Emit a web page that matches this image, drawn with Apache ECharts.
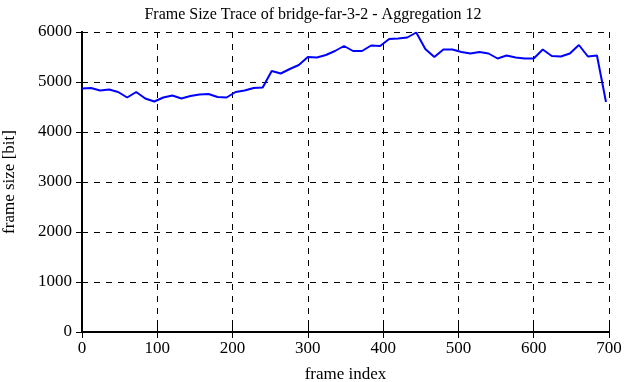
<!DOCTYPE html>
<html>
<head>
<meta charset="utf-8">
<script src="https://cdn.jsdelivr.net/npm/echarts@6/dist/echarts.min.js"></script>
<style>
html, body { margin: 0; padding: 0; background: #fff; }
#chart { width: 626px; height: 382px; }
</style>
</head>
<body>
<div id="chart"></div>
<script>
// frame index (aggregation of 12 frames)
var frames = [];
for (var i = 0; i <= 58; i++) frames.push(i * 12);
var frameSize = [
    4870, 4880, 4830, 4850, 4800, 4690, 4800, 4670, 4610, 4690,
    4730, 4670, 4720, 4750, 4760, 4700, 4690, 4800, 4830, 4880,
    4890, 5220, 5170, 5260, 5340, 5500, 5490, 5540, 5620, 5720,
    5620, 5620, 5730, 5720, 5860, 5870, 5890, 5990, 5660, 5500,
    5650, 5650, 5600, 5570, 5600, 5570, 5470, 5530, 5490, 5470,
    5470, 5650, 5520, 5510, 5570, 5740, 5510, 5530, 4600
];
var xTicks = [0, 100, 200, 300, 400, 500, 600, 700];
var yTicks = [0, 1000, 2000, 3000, 4000, 5000, 6000];

var fontFam = '"Liberation Serif", "DejaVu Serif", serif';
var points = frames.map(function (f, i) { return [f, frameSize[i]]; });

var dashed = { show: true, lineStyle: { color: '#000', type: [6, 6], width: 1 } };

var option = {
    animation: false,
    backgroundColor: '#fff',
    title: {
        text: 'Frame Size Trace of bridge-far-3-2 - Aggregation 12',
        left: 'center',
        top: 2,
        textStyle: { fontFamily: fontFam, fontSize: 16, fontWeight: 'normal', color: '#000' }
    },
    grid: { left: 82, right: 17, top: 32, bottom: 50, containLabel: false, outerBoundsMode: 'none' },
    xAxis: [{
        type: 'value',
        min: xTicks[0],
        max: xTicks[xTicks.length - 1],
        interval: 100,
        name: 'frame index',
        nameLocation: 'middle',
        nameGap: 34,
        nameTextStyle: { fontFamily: fontFam, fontSize: 17, color: '#000' },
        axisLine: { show: true, lineStyle: { color: '#000', width: 2 } },
        axisTick: { show: true, inside: true, length: 6, lineStyle: { color: '#000', width: 1 } },
        axisLabel: { fontFamily: fontFam, fontSize: 17, color: '#000', margin: 8 },
        splitLine: dashed
    }, {
        type: 'value',
        position: 'top',
        min: xTicks[0],
        max: xTicks[xTicks.length - 1],
        interval: 100,
        axisLine: { show: true, lineStyle: { color: '#000', width: 2 } },
        axisTick: { show: true, inside: true, length: 6, lineStyle: { color: '#000', width: 1 } },
        axisLabel: { show: false },
        splitLine: { show: false }
    }],
    yAxis: [{
        type: 'value',
        min: yTicks[0],
        max: yTicks[yTicks.length - 1],
        interval: 1000,
        name: 'frame size [bit]',
        nameLocation: 'middle',
        nameGap: 64,
        nameTextStyle: { fontFamily: fontFam, fontSize: 17, color: '#000' },
        axisLine: { show: true, lineStyle: { color: '#000', width: 2 } },
        axisTick: { show: true, inside: true, length: 6, lineStyle: { color: '#000', width: 1 } },
        axisLabel: {
            fontFamily: fontFam, fontSize: 17, color: '#000', margin: 10,
            formatter: function (v) { return String(v); }
        },
        splitLine: dashed
    }, {
        type: 'value',
        position: 'right',
        min: yTicks[0],
        max: yTicks[yTicks.length - 1],
        interval: 1000,
        axisLine: { show: true, lineStyle: { color: '#000', width: 2 } },
        axisTick: { show: true, inside: true, length: 6, lineStyle: { color: '#000', width: 1 } },
        axisLabel: { show: false },
        splitLine: { show: false }
    }],
    series: [{
        type: 'line',
        data: points,
        showSymbol: false,
        lineStyle: { color: '#0000ff', width: 2 },
        itemStyle: { color: '#0000ff' }
    }]
};

var chart = echarts.init(document.getElementById('chart'));
chart.setOption(option);
</script>
</body>
</html>
